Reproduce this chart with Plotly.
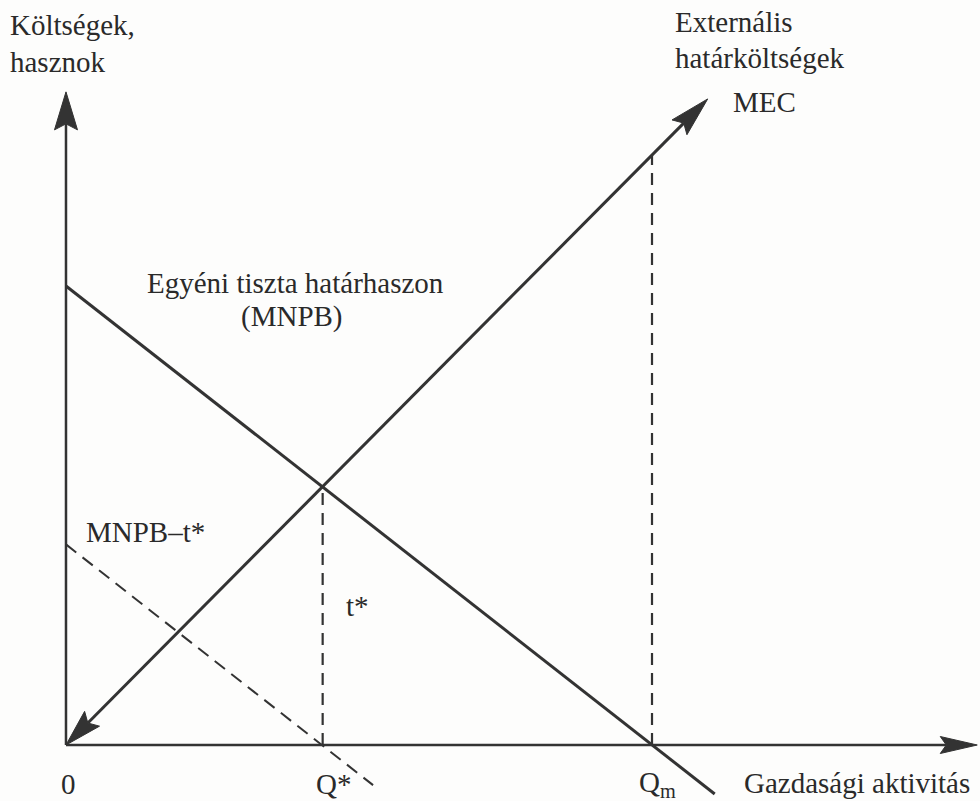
import math
import plotly.graph_objects as go

# Economic activity (Q) and money values, both axes in the same units
q_star = 4.38          # optimal activity: MNPB meets MEC
q_m = 10.0             # private optimum: MNPB falls to zero
t_star = 4.38          # Pigouvian tax = MEC at Q*

mnpb_q = [0.0, q_m, 11.07]
mnpb_v = [7.78, 0.0, -0.83]

mec_q = [0.0, q_star, q_m, 10.95]
mec_v = [0.0, 4.38, 10.0, 10.95]

taxed_q = [0.0, q_star, 5.24]
taxed_v = [3.40, 0.0, -0.68]

axis_end_q = 15.55
axis_end_v = 11.07

# Canvas and data window
W, H = 980, 801
X0, X1 = -1.126, 15.597
Y0, Y1 = -0.949, 12.627

INK = "#333333"
TEXT = "#2a2a2a"
FONT = "Liberation Serif, Times New Roman, serif"


def to_px(x, y):
    return (x - X0) / (X1 - X0) * W, (Y1 - y) / (Y1 - Y0) * H


def to_data(px, py):
    return X0 + px / W * (X1 - X0), Y1 - py / H * (Y1 - Y0)


def arrow_head(tip, tail, length, half, notch=6):
    """Notched triangular head at `tip`, pointing away from `tail`.
    Returns the outline (data coords) and the notch point where the shaft ends."""
    tx, ty = to_px(*tip)
    bx, by = to_px(*tail)
    d = math.hypot(tx - bx, ty - by)
    ux, uy = (tx - bx) / d, (ty - by) / d
    px_, py_ = -uy, ux
    cx, cy = tx - ux * length, ty - uy * length
    pts = [
        (tx, ty),
        (cx + px_ * half, cy + py_ * half),
        (tx - ux * (length - notch), ty - uy * (length - notch)),
        (cx - px_ * half, cy - py_ * half),
        (tx, ty),
    ]
    data = [to_data(*p) for p in pts]
    return [p[0] for p in data], [p[1] for p in data], data[2]


fig = go.Figure()


def add_line(xs, ys, width, dash="solid"):
    fig.add_trace(go.Scatter(x=xs, y=ys, mode="lines",
                             line=dict(color=INK, width=width, dash=dash),
                             hoverinfo="skip", showlegend=False))


def add_head(hx, hy):
    fig.add_trace(go.Scatter(x=hx, y=hy, mode="lines", fill="toself",
                             fillcolor=INK, line=dict(color=INK, width=1),
                             hoverinfo="skip", showlegend=False))


# Axes with arrowheads
yhx, yhy, y_notch = arrow_head((0.0, axis_end_v), (0.0, 0.0), 38, 11.5)
xhx, xhy, x_notch = arrow_head((axis_end_q, 0.0), (0.0, 0.0), 37, 8.5)
add_line([0.0, 0.0], [0.0, y_notch[1]], 2.5)
add_line([0.0, x_notch[0]], [0.0, 0.0], 2.5)

# Dashed guides at Q* and Qm
add_line([q_star, q_star], [0.0, mec_v[1]], 2.2, dash="12px,8px")
add_line([q_m, q_m], [0.0, mec_v[2]], 2.2, dash="12px,8px")

# MNPB - t* (dashed)
add_line(taxed_q, taxed_v, 2, dash="13px,8px")

# MNPB
add_line(mnpb_q, mnpb_v, 3)

# MEC: double-headed arrow
th_x, th_y, top_notch = arrow_head((mec_q[-1], mec_v[-1]), (mec_q[0], mec_v[0]), 40, 10.5)
bh_x, bh_y, bot_notch = arrow_head((mec_q[0], mec_v[0]), (mec_q[-1], mec_v[-1]), 37, 10.5)
add_line([bot_notch[0]] + mec_q[1:-1] + [top_notch[0]],
         [bot_notch[1]] + mec_v[1:-1] + [top_notch[1]], 3)

for hx, hy in [(yhx, yhy), (xhx, xhy), (th_x, th_y), (bh_x, bh_y)]:
    add_head(hx, hy)


def label(text, px, py, anchor="left", size=29):
    fig.add_annotation(text=text, x=px / W, y=1 - py / H, xref="paper", yref="paper",
                       xanchor=anchor, yanchor="middle", showarrow=False,
                       font=dict(family=FONT, size=size, color=TEXT))


label("Költségek,", 8, 25)
label("hasznok", 8, 62)
label("Externális", 673, 22)
label("határköltségek", 673, 58)
label("MEC", 731, 102)
label("Egyéni tiszta határhaszon", 295, 283, anchor="center")
label("(MNPB)", 292, 316, anchor="center")
label("MNPB–t*", 84, 532)
label("t*", 344, 606)
label("0", 68, 784, anchor="center")
label("Q*", 314, 784)
label("Q<sub>m</sub>", 637, 784)
label("Gazdasági aktivitás", 742, 783)

fig.update_layout(
    width=W, height=H,
    margin=dict(l=0, r=0, t=0, b=0),
    paper_bgcolor="#fdfdfc", plot_bgcolor="#fdfdfc",
    xaxis=dict(range=[X0, X1], visible=False, fixedrange=True),
    yaxis=dict(range=[Y0, Y1], visible=False, fixedrange=True),
    showlegend=False,
)

fig.write_html("out.html")
